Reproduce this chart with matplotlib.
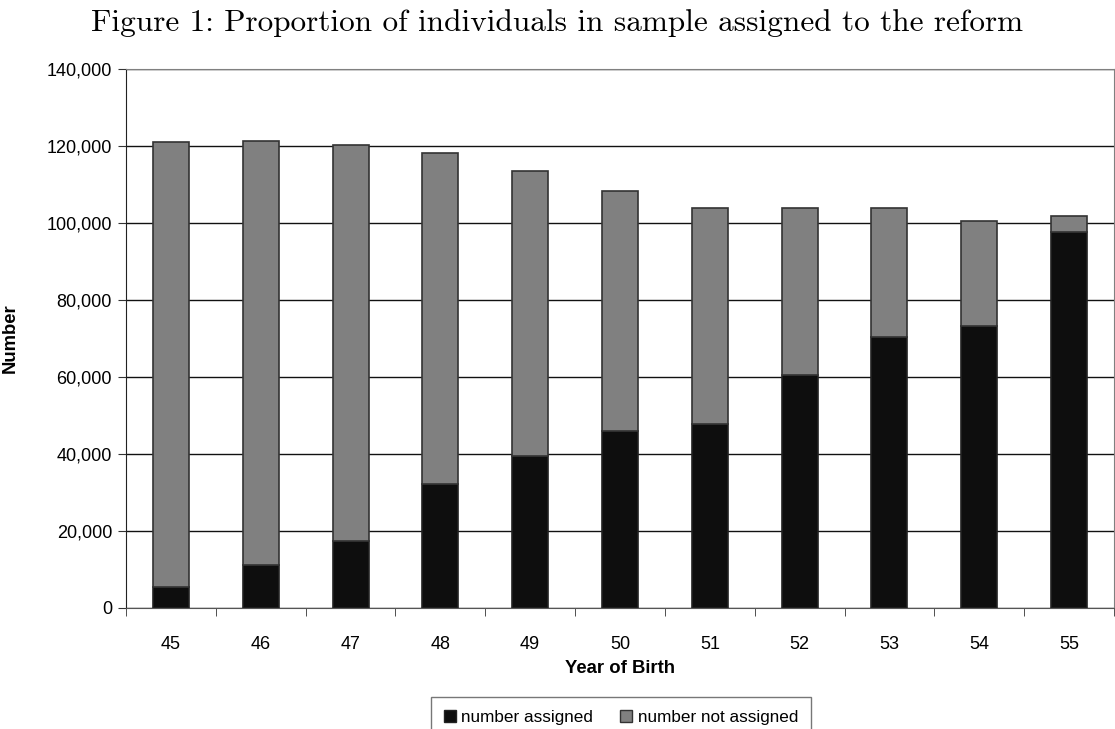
import matplotlib.pyplot as plt
from matplotlib.patches import Patch
from matplotlib.ticker import FuncFormatter, FixedLocator

years = ["45", "46", "47", "48", "49", "50", "51", "52", "53", "54", "55"]
assigned = [5500, 11200, 17400, 32200, 39500, 46000, 47800, 60500, 70400, 73200, 97700]
total = [121000, 121300, 120300, 118300, 113500, 108300, 104000, 104000, 104000, 100600, 101800]
not_assigned = [t - a for t, a in zip(total, assigned)]

plt.rcParams["font.family"] = ["Liberation Sans", "DejaVu Sans"]

fig = plt.figure(figsize=(11.15, 7.29), dpi=100)
ax = fig.add_axes([126 / 1115, 1 - 608 / 729, (1114 - 126) / 1115, (608 - 69) / 729])

x = list(range(len(years)))
ax.bar(x, assigned, width=0.4, color="#0e0e0e", edgecolor="#222222", linewidth=1.2, zorder=3)
ax.bar(x, not_assigned, bottom=assigned, width=0.4, color="#808080", edgecolor="#333333",
       linewidth=1.2, zorder=3)

ax.set_xlim(-0.5, len(years) - 0.5)
ax.set_ylim(0, 140000)
ax.set_yticks(range(0, 140001, 20000))
ax.yaxis.set_major_formatter(FuncFormatter(lambda v, p: f"{int(v):,}"))
ax.yaxis.grid(True, color="#111111", linewidth=1.0, zorder=0)

ax.set_xticks(x)
ax.set_xticklabels(years)
ax.tick_params(axis="x", which="major", length=0, pad=20, labelsize=13)
ax.xaxis.set_minor_locator(FixedLocator([i + 0.5 for i in range(-1, len(years))]))
ax.tick_params(axis="x", which="minor", length=6, direction="out", color="#333333")
ax.tick_params(axis="y", length=6, direction="out", labelsize=13, pad=4, color="#333333")

for side in ["top", "right"]:
    ax.spines[side].set_color("#808080")
ax.spines["left"].set_color("#222222")
ax.spines["bottom"].set_color("#555555")

ax.set_xlabel("Year of Birth", fontsize=13.3, fontweight="bold", labelpad=5)
ax.set_ylabel("Number", fontsize=13.3, fontweight="bold")
ax.yaxis.set_label_coords(-0.109, 0.5)

fig.text(0.5, 0.969, "Figure 1: Proportion of individuals in sample assigned to the reform",
         ha="center", va="center", fontsize=22.5, family="cmr10")

handles = [Patch(facecolor="#0e0e0e", edgecolor="#222222", label="number assigned"),
           Patch(facecolor="#808080", edgecolor="#333333", label="number not assigned")]
leg = fig.legend(handles=handles, loc="upper center", bbox_to_anchor=(621 / 1115, 1 - 697 / 729),
                 ncol=2, frameon=True, fancybox=False, fontsize=12.3, handlelength=0.7,
                 handleheight=0.7, handletextpad=0.3, columnspacing=1.6, borderpad=0.75,
                 borderaxespad=0)
leg.get_frame().set_edgecolor("#555555")
leg.get_frame().set_linewidth(1.0)

fig.savefig("out.png", dpi=100)
